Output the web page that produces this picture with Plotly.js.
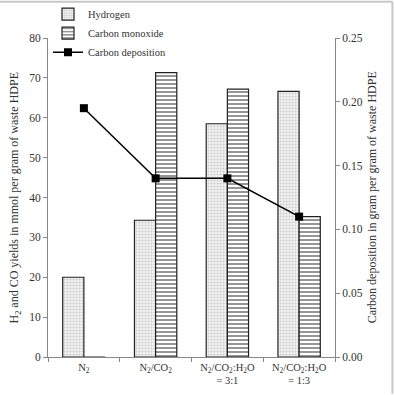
<!DOCTYPE html>
<html>
<head>
<meta charset="utf-8">
<script src="https://cdn.plot.ly/plotly-3.0.1.min.js"></script>
<style>
  html, body { margin: 0; padding: 0; background: #fff; }
  #chart { width: 395px; height: 395px; }
</style>
</head>
<body>
<div id="chart"></div>
<script>
// Gasification atmospheres
const categories = [
  'N<sub>2</sub>',
  'N<sub>2</sub>/CO<sub>2</sub>',
  'N<sub>2</sub>/CO<sub>2</sub>:H<sub>2</sub>O<br>= 3:1',
  'N<sub>2</sub>/CO<sub>2</sub>:H<sub>2</sub>O<br>= 1:3'
];
// Yields, mmol per gram of waste HDPE
const hydrogen = [20.0, 34.3, 58.5, 66.6];
const carbonMonoxide = [0, 71.3, 67.2, 35.2];
// Carbon deposition, gram per gram of waste HDPE
const carbonDeposition = [0.195, 0.14, 0.14, 0.11];

const leftTicks = [0, 10, 20, 30, 40, 50, 60, 70, 80];
const rightTicks = [0, 0.05, 0.10, 0.15, 0.20, 0.25];

const leftTitle = 'H<sub>2</sub> and CO yields in mmol per gram of waste HDPE';
const rightTitle = 'Carbon deposition in gram per gram of waste HDPE';

const serif = '"Liberation Serif", serif';

const traces = [
  {
    type: 'bar', name: 'Hydrogen', x: categories, y: hydrogen,
    marker: {
      color: '#f0f0f0',
      line: { color: '#222', width: 1.2 },
      pattern: { shape: '.', fgcolor: '#cbcbcb', bgcolor: '#f3f3f3', size: 3, solidity: 0.35 }
    }
  },
  {
    type: 'bar', name: 'Carbon monoxide', x: categories, y: carbonMonoxide,
    marker: {
      color: '#ffffff',
      line: { color: '#222', width: 1.2 },
      pattern: { shape: '-', fgcolor: '#8a8a8a', bgcolor: '#ffffff', size: 4, solidity: 0.45 }
    }
  },
  {
    type: 'scatter', mode: 'lines+markers', name: 'Carbon deposition',
    x: categories, y: carbonDeposition, yaxis: 'y2',
    line: { color: '#000', width: 1.5 },
    marker: { symbol: 'square', size: 8, color: '#000' }
  }
];

const layout = {
  width: 395, height: 395,
  margin: { l: 48, r: 60, t: 38, b: 38, autoexpand: false },
  paper_bgcolor: '#fff', plot_bgcolor: '#fff',
  font: { family: serif, size: 11, color: '#333' },
  barmode: 'group',
  bargap: 0.41,
  bargroupgap: 0,
  showlegend: true,
  legend: {
    x: 0.0, y: 1.12, xanchor: 'left', yanchor: 'top',
    bgcolor: 'rgba(0,0,0,0)', font: { family: serif, size: 10.5, color: '#333' },
    tracegroupgap: 0, itemwidth: 30
  },
  xaxis: {
    type: 'category', automargin: false,
    showgrid: false, zeroline: false,
    showline: true, linecolor: '#888', linewidth: 1,
    ticks: 'outside', tickson: 'boundaries', ticklen: 4, tickcolor: '#888',
    tickangle: 0,
    tickfont: { family: serif, size: 10.5, color: '#333' }
  },
  yaxis: {
    range: [0, 80], tickvals: leftTicks, automargin: false,
    showgrid: false, zeroline: false,
    showline: true, linecolor: '#888', linewidth: 1,
    ticks: 'outside', ticklen: 4, tickcolor: '#888',
    tickfont: { family: serif, size: 11.5, color: '#333' }
  },
  yaxis2: {
    range: [0, 0.25], tickvals: rightTicks, tickformat: '.2f', automargin: false,
    overlaying: 'y', side: 'right',
    showgrid: false, zeroline: false,
    showline: true, linecolor: '#888', linewidth: 1,
    ticks: 'outside', ticklen: 4, tickcolor: '#888',
    tickfont: { family: serif, size: 11.5, color: '#333' }
  },
  annotations: [
    { text: leftTitle, xref: 'paper', yref: 'paper', x: -0.115, y: 0.5,
      xanchor: 'center', yanchor: 'middle', textangle: -90, showarrow: false,
      font: { family: serif, size: 12, color: '#333' } },
    { text: rightTitle, xref: 'paper', yref: 'paper', x: 1.128, y: 0.5,
      xanchor: 'center', yanchor: 'middle', textangle: -90, showarrow: false,
      font: { family: serif, size: 12, color: '#333' } }
  ],
  shapes: [
    { type: 'line', xref: 'paper', yref: 'paper', x0: -0.17, x1: 1.2, y0: 1.114, y1: 1.114,
      line: { color: '#c8c8c8', width: 2 } },
    { type: 'line', xref: 'paper', yref: 'paper', x0: 1.2, x1: 1.2, y0: 1.114, y1: -0.115,
      line: { color: '#c8c8c8', width: 2 } }
  ]
};

Plotly.newPlot('chart', traces, layout, { displayModeBar: false, staticPlot: true });
</script>
</body>
</html>
